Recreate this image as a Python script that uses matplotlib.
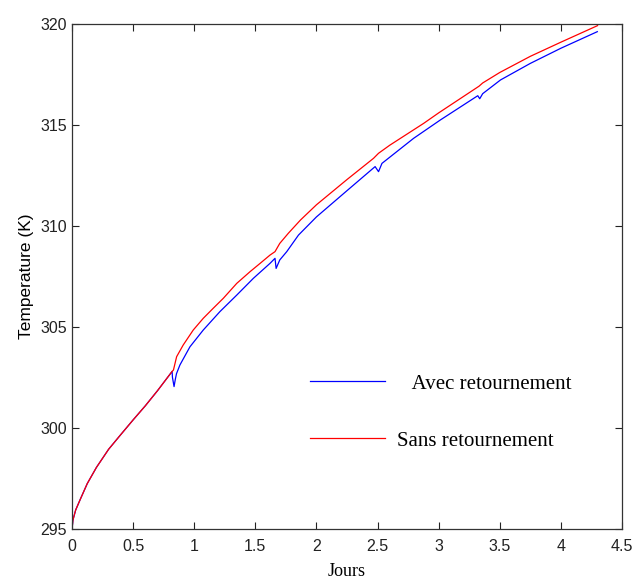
import numpy as np
import matplotlib.pyplot as plt

# common part before the first turn (both curves coincide)
days_start = [0, 0.008, 0.03, 0.07, 0.125, 0.2, 0.3, 0.4, 0.5, 0.6, 0.7, 0.819]
temp_start = [295.0, 295.45, 295.94, 296.5, 297.25, 298.05, 298.95, 299.68, 300.4, 301.1, 301.85, 302.8]

# Sans retournement
days_sans = [0.83, 0.856, 0.91, 0.992, 1.074, 1.156, 1.238, 1.348, 1.457, 1.539, 1.62, 1.661,
             1.70, 1.77, 1.87, 2.0, 2.25, 2.467, 2.508, 2.6, 2.877, 3.0, 3.33, 3.36, 3.5,
             3.75, 4.0, 4.3]
temp_sans = [302.87, 303.53, 304.11, 304.85, 305.43, 305.93, 306.42, 307.16, 307.74, 308.15, 308.56, 308.73,
             309.14, 309.64, 310.3, 311.05, 312.3, 313.35, 313.6, 314.0, 315.08, 315.6, 316.92, 317.08, 317.6,
             318.4, 319.1, 319.92]

# Avec retournement
days_avec = [0.822, 0.835, 0.845, 0.855, 0.883, 0.965, 1.074, 1.21, 1.348, 1.484, 1.62, 1.661, 1.67,
             1.70, 1.757, 1.853, 2.0, 2.25, 2.48, 2.508, 2.536, 2.795, 3.014, 3.32, 3.336, 3.36,
             3.506, 3.75, 4.0, 4.298]
temp_avec = [302.5, 302.05, 302.4, 302.69, 303.12, 304.02, 304.85, 305.76, 306.58, 307.41, 308.15, 308.4, 307.9,
             308.32, 308.73, 309.55, 310.45, 311.75, 312.94, 312.69, 313.1, 314.34, 315.25, 316.45, 316.3, 316.55,
             317.23, 318.05, 318.8, 319.62]

x_sans = days_start + days_sans
y_sans = temp_start + temp_sans
x_avec = days_start + days_avec
y_avec = temp_start + temp_avec

fig = plt.figure(figsize=(6.33, 5.83), dpi=100)
ax = fig.add_axes([72 / 633, 1 - 529 / 583, 550 / 633, 505 / 583])

l_avec, = ax.plot(x_avec, y_avec, color="#0000ff", linewidth=0.9)
l_sans, = ax.plot(x_sans, y_sans, color="#ff0000", linewidth=0.9)

ax.set_xlim(0, 4.5)
ax.set_ylim(295, 320)
ax.set_xticks(np.arange(0, 4.51, 0.5))
ax.set_xticklabels(["0", "0.5", "1", "1.5", "2", "2.5", "3", "3.5", "4", "4.5"])
ax.set_yticks(np.arange(295, 321, 5))
ax.tick_params(direction="in", length=5, width=0.8, top=True, right=True,
               labelsize=11.5, colors="#222222")
ax.tick_params(axis="x", pad=7)
for lab in ax.get_xticklabels() + ax.get_yticklabels():
    lab.set_family("Liberation Sans")
for s in ax.spines.values():
    s.set_linewidth(0.9)
    s.set_color("#333333")

ax.set_ylabel("Temperature (K)", family="Liberation Sans", fontsize=12.5, labelpad=5)
ax.set_xlabel("Jours", family="Liberation Serif", fontsize=13, labelpad=7)

ax.legend([l_avec, l_sans], ["   Avec retournement", "Sans retournement"],
          frameon=False, prop={"family": "Liberation Serif", "size": 15},
          handlelength=3.6, handletextpad=0.58, labelspacing=1.8,
          loc="upper left", bbox_to_anchor=(0.398, 0.344))

fig.savefig("out.png", dpi=100)
